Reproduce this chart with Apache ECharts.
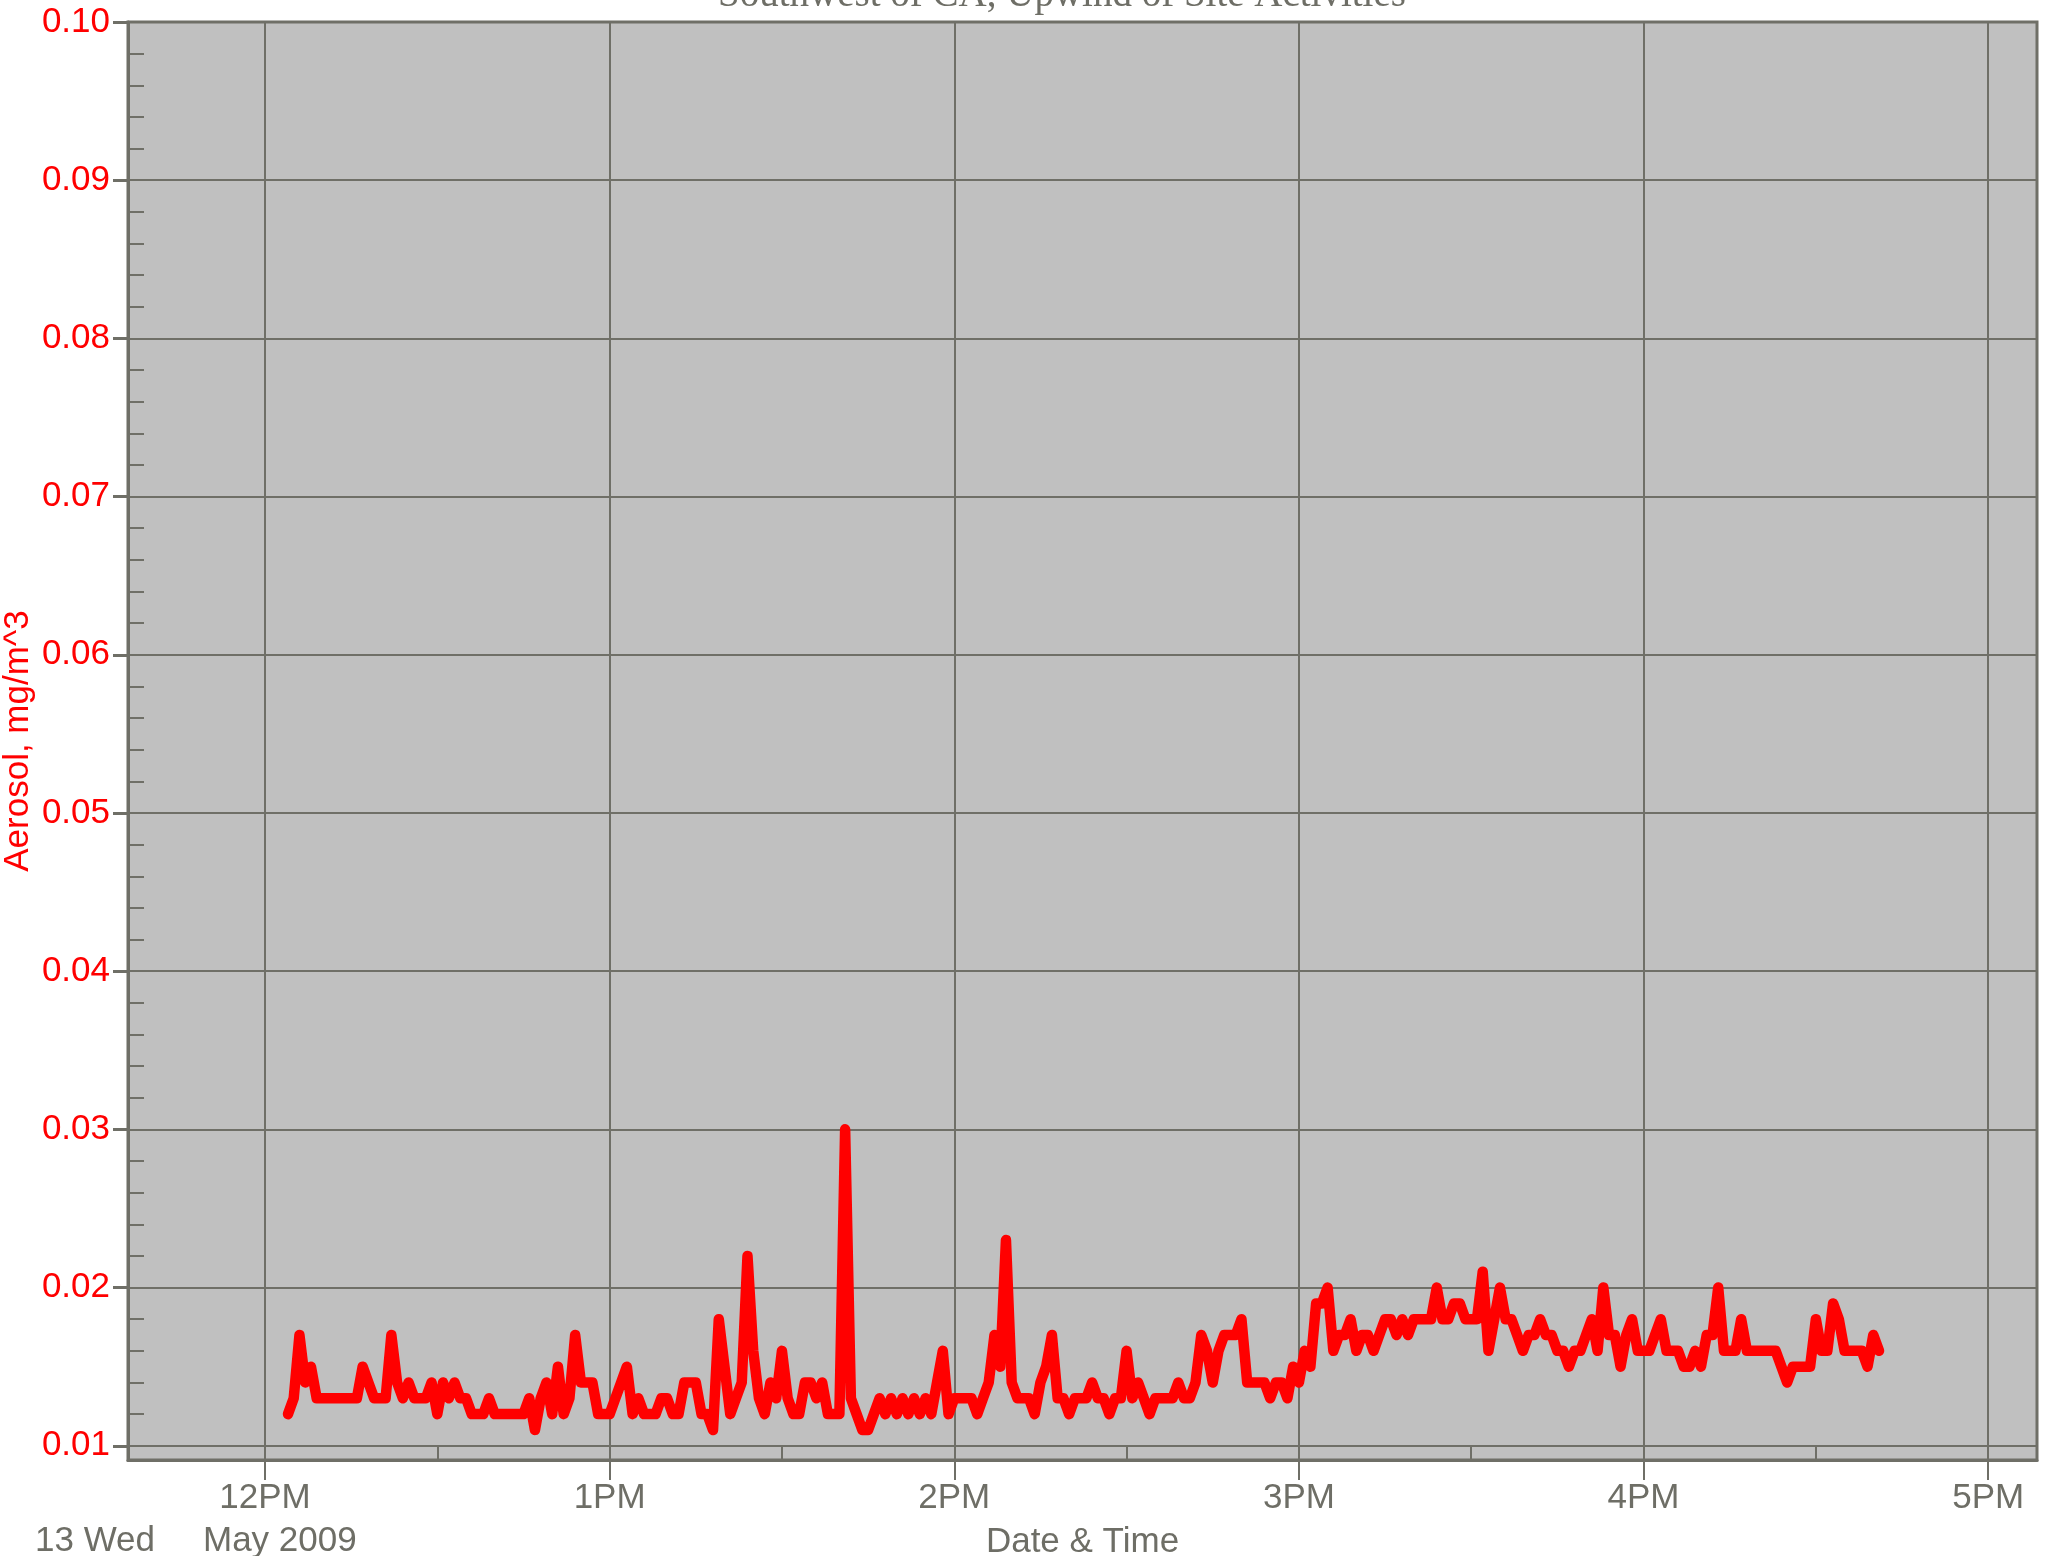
<!DOCTYPE html>
<html>
<head>
<meta charset="utf-8">
<title>Southwest of CA, Upwind of Site Activities</title>
<script src="https://cdn.jsdelivr.net/npm/echarts@6/dist/echarts.min.js"></script>
<style>
  html, body { margin: 0; padding: 0; background: #ffffff; }
  #chart { width: 2049px; height: 1556px; }
</style>
</head>
<body>
<div id="chart"></div>
<script>
// one aerosol reading per minute, 13 May 2009, first sample at 12:04 PM
// x is counted in minutes after 12PM
const sampleStartMinute = 4
const sampleStepMinutes = 1
const aerosol = [
  0.012, 0.013, 0.017, 0.014, 0.015, 0.013, 0.013, 0.013, 0.013, 0.013,
  0.013, 0.013, 0.013, 0.015, 0.014, 0.013, 0.013, 0.013, 0.017, 0.014,
  0.013, 0.014, 0.013, 0.013, 0.013, 0.014, 0.012, 0.014, 0.013, 0.014,
  0.013, 0.013, 0.012, 0.012, 0.012, 0.013, 0.012, 0.012, 0.012, 0.012,
  0.012, 0.012, 0.013, 0.011, 0.013, 0.014, 0.012, 0.015, 0.012, 0.013,
  0.017, 0.014, 0.014, 0.014, 0.012, 0.012, 0.012, 0.013, 0.014, 0.015,
  0.012, 0.013, 0.012, 0.012, 0.012, 0.013, 0.013, 0.012, 0.012, 0.014,
  0.014, 0.014, 0.012, 0.012, 0.011, 0.018, 0.015, 0.012, 0.013, 0.014,
  0.022, 0.016, 0.013, 0.012, 0.014, 0.013, 0.016, 0.013, 0.012, 0.012,
  0.014, 0.014, 0.013, 0.014, 0.012, 0.012, 0.012, 0.030, 0.013, 0.012,
  0.011, 0.011, 0.012, 0.013, 0.012, 0.013, 0.012, 0.013, 0.012, 0.013,
  0.012, 0.013, 0.012, 0.014, 0.016, 0.012, 0.013, 0.013, 0.013, 0.013,
  0.012, 0.013, 0.014, 0.017, 0.015, 0.023, 0.014, 0.013, 0.013, 0.013,
  0.012, 0.014, 0.015, 0.017, 0.013, 0.013, 0.012, 0.013, 0.013, 0.013,
  0.014, 0.013, 0.013, 0.012, 0.013, 0.013, 0.016, 0.013, 0.014, 0.013,
  0.012, 0.013, 0.013, 0.013, 0.013, 0.014, 0.013, 0.013, 0.014, 0.017,
  0.016, 0.014, 0.016, 0.017, 0.017, 0.017, 0.018, 0.014, 0.014, 0.014,
  0.014, 0.013, 0.014, 0.014, 0.013, 0.015, 0.014, 0.016, 0.015, 0.019,
  0.019, 0.020, 0.016, 0.017, 0.017, 0.018, 0.016, 0.017, 0.017, 0.016,
  0.017, 0.018, 0.018, 0.017, 0.018, 0.017, 0.018, 0.018, 0.018, 0.018,
  0.020, 0.018, 0.018, 0.019, 0.019, 0.018, 0.018, 0.018, 0.021, 0.016,
  0.018, 0.020, 0.018, 0.018, 0.017, 0.016, 0.017, 0.017, 0.018, 0.017,
  0.017, 0.016, 0.016, 0.015, 0.016, 0.016, 0.017, 0.018, 0.016, 0.020,
  0.017, 0.017, 0.015, 0.017, 0.018, 0.016, 0.016, 0.016, 0.017, 0.018,
  0.016, 0.016, 0.016, 0.015, 0.015, 0.016, 0.015, 0.017, 0.017, 0.020,
  0.016, 0.016, 0.016, 0.018, 0.016, 0.016, 0.016, 0.016, 0.016, 0.016,
  0.015, 0.014, 0.015, 0.015, 0.015, 0.015, 0.018, 0.016, 0.016, 0.019,
  0.018, 0.016, 0.016, 0.016, 0.016, 0.015, 0.017, 0.016
]

// axis ranges and ticks
const xMin = -23.85
const xMax = 308.5
const hourTicks = [0, 60, 120, 180, 240, 300]
const hourLabels = ['12PM', '1PM', '2PM', '3PM', '4PM', '5PM']
const halfHourTicks = [30, 90, 150, 210, 270]
const yMin = 0.0091
const yMax = 0.1
const yMajor = [0.01, 0.02, 0.03, 0.04, 0.05, 0.06, 0.07, 0.08, 0.09, 0.1]
const yMinor = [
  0.012, 0.014, 0.016, 0.018, 0.022, 0.024, 0.026, 0.028,
  0.032, 0.034, 0.036, 0.038, 0.042, 0.044, 0.046, 0.048,
  0.052, 0.054, 0.056, 0.058, 0.062, 0.064, 0.066, 0.068,
  0.072, 0.074, 0.076, 0.078, 0.082, 0.084, 0.086, 0.088,
  0.092, 0.094, 0.096, 0.098
]

const gridColor = '#6f6f67'
const textGray = '#6e6e66'
const red = '#ff0000'
const font = 'Liberation Sans, Arial, sans-serif'

const seriesData = aerosol.map((v, i) => [sampleStartMinute + i * sampleStepMinutes, v])

const chart = echarts.init(document.getElementById('chart'))
chart.setOption({
  animation: false,
  backgroundColor: '#ffffff',
  grid: {
    left: 128,
    right: 12,
    top: 22,
    bottom: 96,
    containLabel: false,
    outerBoundsMode: 'none',
    show: true,
    backgroundColor: '#c0c0c0',
    borderColor: gridColor,
    borderWidth: 3
  },
  graphic: [
    {
      type: 'text',
      x: 1062,
      y: -4,
      silent: true,
      style: {
        text: 'Southwest of CA, Upwind of Site Activities',
        fill: textGray,
        font: '39px "Liberation Serif", "Times New Roman", serif',
        textAlign: 'center',
        textVerticalAlign: 'middle'
      }
    },
    {
      type: 'text',
      x: 35,
      y: 1541,
      silent: true,
      style: {
        text: '13 Wed',
        fill: textGray,
        font: '35px ' + font,
        textAlign: 'left',
        textVerticalAlign: 'middle'
      }
    },
    {
      type: 'text',
      x: 203,
      y: 1541,
      silent: true,
      style: {
        text: 'May 2009',
        fill: textGray,
        font: '35px ' + font,
        textAlign: 'left',
        textVerticalAlign: 'middle'
      }
    }
  ],
  xAxis: [
    {
      type: 'value',
      min: xMin,
      max: xMax,
      position: 'bottom',
      name: 'Date & Time',
      nameLocation: 'middle',
      nameGap: 65,
      nameMoveOverlap: false,
      nameTextStyle: { color: textGray, fontSize: 35, fontFamily: font },
      axisLine: { show: true, onZero: false, lineStyle: { color: gridColor, width: 3 } },
      axisTick: {
        show: true,
        customValues: hourTicks,
        length: 20,
        lineStyle: { color: gridColor, width: 2 }
      },
      axisLabel: {
        customValues: hourTicks,
        formatter: (val) => hourLabels[hourTicks.indexOf(val)],
        color: textGray,
        fontSize: 35,
        fontFamily: font,
        margin: 21
      },
      splitLine: { show: true, lineStyle: { color: gridColor, width: 2 } }
    },
    {
      type: 'value',
      min: xMin,
      max: xMax,
      position: 'bottom',
      axisLine: { show: false, onZero: false },
      axisTick: {
        show: true,
        inside: true,
        customValues: halfHourTicks,
        length: 15,
        lineStyle: { color: gridColor, width: 2 }
      },
      axisLabel: { show: false },
      splitLine: { show: false }
    }
  ],
  yAxis: [
    {
      type: 'value',
      min: yMin,
      max: yMax,
      position: 'left',
      name: 'Aerosol, mg/m^3',
      nameLocation: 'middle',
      nameRotate: 90,
      nameGap: 92,
      nameMoveOverlap: false,
      nameTextStyle: { color: red, fontSize: 35, fontFamily: font },
      axisLine: { show: true, onZero: false, lineStyle: { color: gridColor, width: 3 } },
      axisTick: {
        show: true,
        customValues: yMajor,
        length: 15,
        lineStyle: { color: gridColor, width: 3 }
      },
      axisLabel: {
        customValues: yMajor,
        formatter: (v) => v.toFixed(2),
        color: red,
        fontSize: 35,
        fontFamily: font,
        margin: 18
      },
      splitLine: { show: true, lineStyle: { color: gridColor, width: 2 } }
    },
    {
      type: 'value',
      min: yMin,
      max: yMax,
      position: 'left',
      axisLine: { show: false, onZero: false },
      axisTick: {
        show: true,
        inside: true,
        customValues: yMinor,
        length: 16,
        lineStyle: { color: gridColor, width: 2 }
      },
      axisLabel: { show: false },
      splitLine: { show: false }
    }
  ],
  series: [
    {
      name: 'Aerosol',
      type: 'line',
      xAxisIndex: 0,
      yAxisIndex: 0,
      data: seriesData,
      showSymbol: false,
      symbol: 'none',
      silent: true,
      lineStyle: { color: red, width: 10.5, cap: 'round', join: 'round' }
    }
  ]
})
</script>
</body>
</html>
